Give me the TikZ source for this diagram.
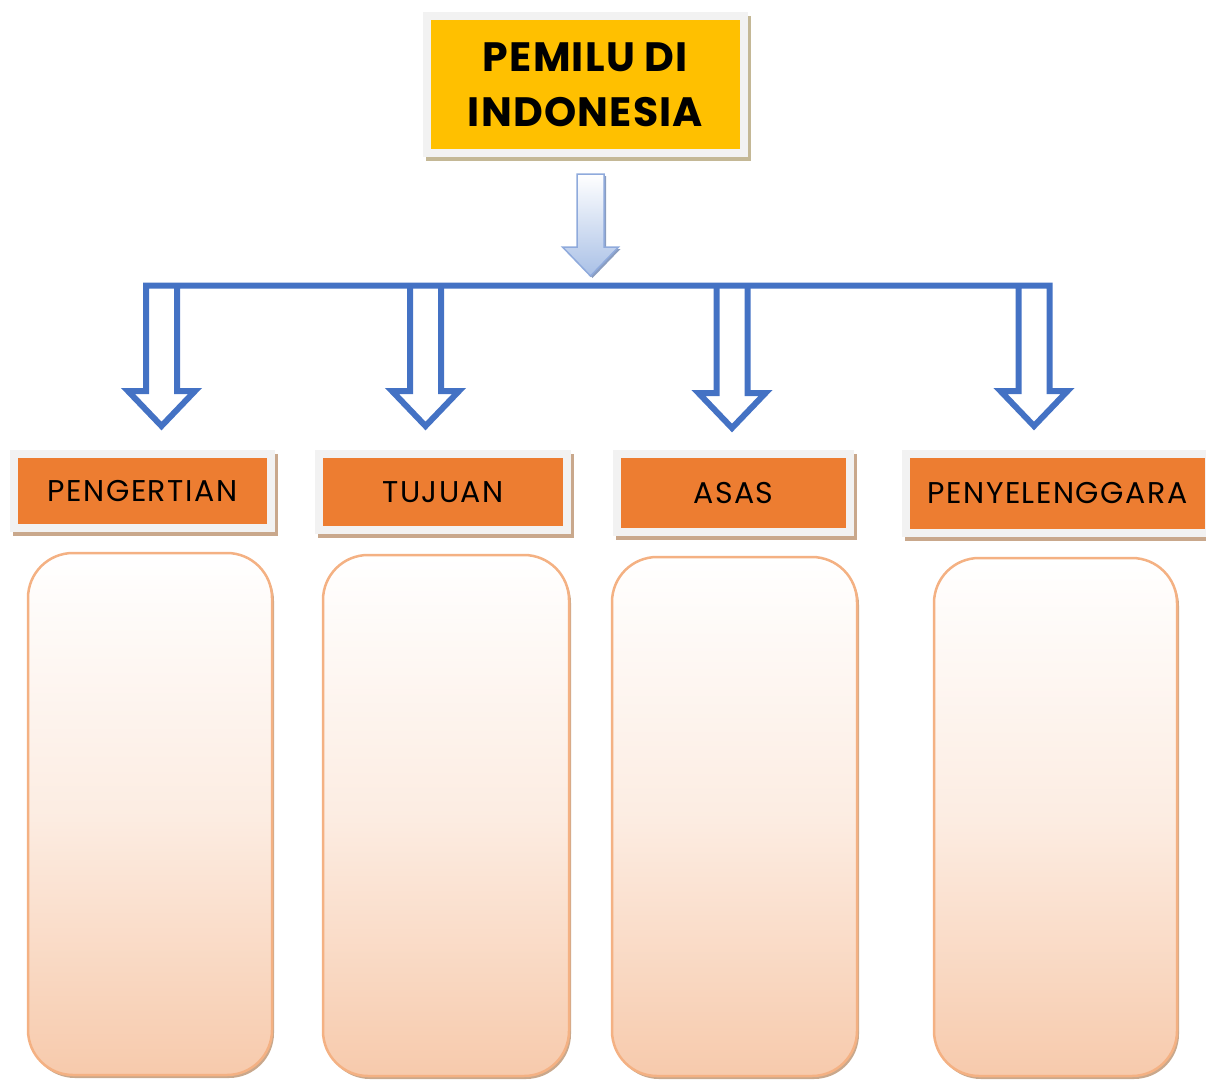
\documentclass[tikz,border=0pt]{standalone}
\usepackage{fontspec}
\setmainfont{Poppins}
\newfontfamily\titlefont[LetterSpace=3]{Poppins}
\newfontfamily\labelfont[LetterSpace=5]{Poppins}
\usepackage{xcolor}
\usetikzlibrary{math}
\definecolor{pblue}{RGB}{68,114,196}
\definecolor{pyellow}{RGB}{255,192,0}
\definecolor{porange}{RGB}{237,125,49}
\definecolor{pframe}{RGB}{242,242,242}
\definecolor{ptan}{RGB}{201,168,140}
\definecolor{polive}{RGB}{196,184,150}
\definecolor{ppeach}{RGB}{247,202,172}
\definecolor{pline}{RGB}{244,177,131}
\definecolor{parrow}{RGB}{143,170,220}
\definecolor{plight}{RGB}{169,192,230}

\tikzset{
titlebox/.style={fill=pyellow, draw=pframe, line width=8pt, inner sep=0pt,
  minimum width=317pt, minimum height=137pt, align=center,
  font=\titlefont\fontsize{41}{55}\selectfont\bfseries,
  preaction={fill=polive, draw=polive, line width=8pt, transform canvas={shift={(3pt,-4pt)}}}},
labelbox/.style={fill=porange, draw=pframe, line width=8pt, inner sep=0pt,
  font=\labelfont\fontsize{30}{34}\selectfont,
  preaction={fill=ptan, draw=ptan, line width=8pt, transform canvas={shift={(3pt,-4pt)}}}},
card/.style={draw=pline, line width=2.5pt, rounded corners=45pt,
  top color=white, bottom color=ppeach, middle color=ppeach!35,
  preaction={fill=ptan, transform canvas={shift={(2pt,-3pt)}}}},
bracket/.style={draw=pblue, line width=6pt, line join=miter},
}

\begin{document}
\begin{tikzpicture}[x=1pt,y=-1pt]

\tikzmath{
\yb = 285.5; %bar
\yh = 391; %start of heads
\yt = 426; %tips
\sw = 15.5;
\hw = 33.5;
\xa = 161.5;
\xb = 425.5;
\xc = 732;
\xd = 1034;
}

\useasboundingbox (0,0) rectangle (1206,1079);

%title
\node[titlebox] (T) at (585.5,84.5) {PEMILU DI\\INDONESIA};

%small arrow
\coordinate (S) at (590.5,174);
\draw[draw=parrow, line width=1.5pt, top color=white, bottom color=plight,
  preaction={fill=parrow!70!gray, transform canvas={shift={(2pt,-2pt)}}}]
  (S) ++(-13.5,0) -- ++(27,0) -- ++(0,73) -- ++(14.5,0) -- ++(-28,29)
  -- ++(-28,-29) -- ++(14.5,0) -- cycle;

%bracket with outer arrows
\draw[bracket] ({\xa+\sw},\yb) -- ({\xa+\sw},\yh) -- ({\xa+\hw},\yh) -- (\xa,\yt)
  -- ({\xa-\hw},\yh) -- ({\xa-\sw},\yh) -- ({\xa-\sw},\yb) -- ({\xd+\sw},\yb)
  -- ({\xd+\sw},\yh) -- ({\xd+\hw},\yh) -- (\xd,\yt) -- ({\xd-\hw},\yh)
  -- ({\xd-\sw},\yh) -- ({\xd-\sw},\yb);
%inner arrows
\draw[bracket] ({\xb-\sw},\yb) -- ({\xb-\sw},\yh) -- ({\xb-\hw},\yh) -- (\xb,\yt)
  -- ({\xb+\hw},\yh) -- ({\xb+\sw},\yh) -- ({\xb+\sw},\yb);
\draw[bracket] ({\xc-\sw},\yb) -- ({\xc-\sw},{\yh+2}) -- ({\xc-\hw},{\yh+2}) -- (\xc,{\yt+2})
  -- ({\xc+\hw},{\yh+2}) -- ({\xc+\sw},{\yh+2}) -- ({\xc+\sw},\yb);

%labels
\node[labelbox, minimum width=257pt, minimum height=74pt] (L1) at (142.5,491) {PENGERTIAN};
\node[labelbox, minimum width=248pt, minimum height=76pt] (L2) at (443,492) {TUJUAN};
\node[labelbox, minimum width=233pt, minimum height=78pt] (L3) at (733.5,493) {ASAS};
\node[labelbox, minimum width=303pt, minimum height=79pt] (L4) at (1057.5,493.5) {PENYELENGGARA};

%empty cards
\node[card, minimum width=244pt, minimum height=522pt] (B1) at (150,814) {};
\node[card, minimum width=246pt, minimum height=521pt] (B2) at (446,815.5) {};
\node[card, minimum width=245pt, minimum height=519pt] (B3) at (734.5,816.5) {};
\node[card, minimum width=243pt, minimum height=518pt] (B4) at (1055.5,817) {};

\end{tikzpicture}
\end{document}
